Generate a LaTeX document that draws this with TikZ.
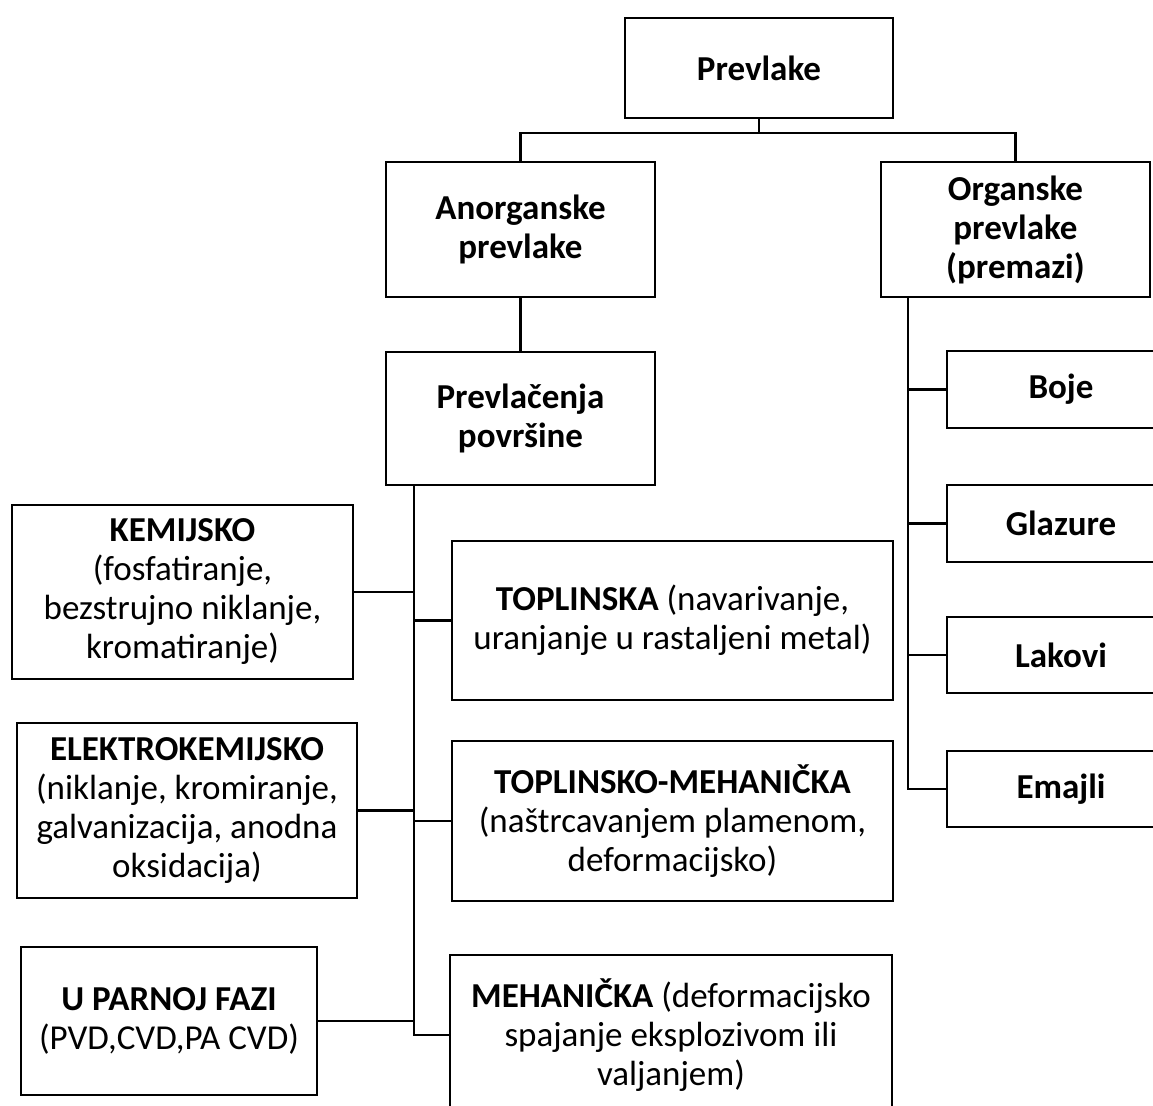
\documentclass[tikz,border=0pt]{standalone}
\usepackage{fontspec}
\setmainfont{Carlito}
\usetikzlibrary{positioning}

\begin{document}
\begin{tikzpicture}[x=0.5pt,y=-0.5pt,line width=1.4pt,
    box/.style={draw=black,inner sep=0pt,outer sep=0pt,align=center,
      font=\fontsize{17.5}{19.5}\selectfont},
    wide/.style={box,minimum width=134.5pt,minimum height=67.5pt},
    small/.style={box,minimum width=114pt,minimum height=38.5pt,font=\fontsize{17.5}{19.5}\selectfont\bfseries}]
    \useasboundingbox (0,0) rectangle (1153,1106);
    \clip (0,0) rectangle (1153,1106);
    % top levels
    \node[box,minimum width=134pt,minimum height=50pt] (prevlake) at (759,68) {\textbf{Prevlake}};
    \node[wide] (anorg) at (520.5,229.5) {\textbf{Anorganske}\\\textbf{prevlake}};
    \node[wide] (organ) at (1015.5,229.5) {\textbf{Organske}\\\textbf{prevlake}\\\textbf{(premazi)}};
    \node[wide,minimum height=66.5pt] (povrs) at (520.5,418.5) {\textbf{Prevlačenja}\\\textbf{površine}};
    % postupci
    \node[box,minimum width=170.5pt,minimum height=87pt] (kem) at (182.5,592)
        {\textbf{KEMIJSKO}\\(fosfatiranje,\\bezstrujno niklanje,\\kromatiranje)};
    \node[box,minimum width=170pt,minimum height=87.5pt] (elek) at (187,810.5)
        {\textbf{ELEKTROKEMIJSKO}\\(niklanje, kromiranje,\\galvanizacija, anodna\\oksidacija)};
    \node[box,minimum width=148pt,minimum height=74pt] (parna) at (169,1021)
        {\textbf{U PARNOJ FAZI}\\(PVD,CVD,PA CVD)};
    \node[box,minimum width=220.5pt,minimum height=79.5pt] (topl) at (672.5,620.5)
        {\textbf{TOPLINSKA} (navarivanje,\\uranjanje u rastaljeni metal)};
    \node[box,minimum width=220.5pt,minimum height=80pt] (toplmeh) at (672.5,821)
        {\textbf{TOPLINSKO-MEHANIČKA}\\(naštrcavanjem plamenom,\\deformacijsko)};
    \node[box,minimum width=221pt,minimum height=80pt] (meh) at (671,1035)
        {\textbf{MEHANIČKA} (deformacijsko\\spajanje eksplozivom ili\\valjanjem)};
    % premazi
    \node[small] (boje) at (1061,389.5) {Boje};
    \node[small] (glaz) at (1061,523.5) {Glazure};
    \node[small,minimum height=38pt] (lak) at (1061,655) {Lakovi};
    \node[small,minimum height=38pt] (emaj) at (1061,789) {Emajli};
    % veze
    \coordinate (bus) at (759,133);
    \coordinate (trunkL) at (414,1034);
    \coordinate (trunkR) at (908,788);
    \draw (prevlake.south) -- (bus);
    \draw (anorg.north) |- (bus) -| (organ.north);
    \draw (anorg.south) -- (povrs.north);
    \draw (povrs.south -| trunkL) |- (meh.west);
    \draw (kem.east) -- (kem.east -| trunkL);
    \draw (elek.east) -- (elek.east -| trunkL);
    \draw (parna.east) -- (parna.east -| trunkL);
    \draw (topl.west) -- (topl.west -| trunkL);
    \draw (toplmeh.west) -- (toplmeh.west -| trunkL);
    \draw (organ.south -| trunkR) |- (emaj.west);
    \draw (boje.west) -- (boje.west -| trunkR);
    \draw (glaz.west) -- (glaz.west -| trunkR);
    \draw (lak.west) -- (lak.west -| trunkR);
\end{tikzpicture}
\end{document}
